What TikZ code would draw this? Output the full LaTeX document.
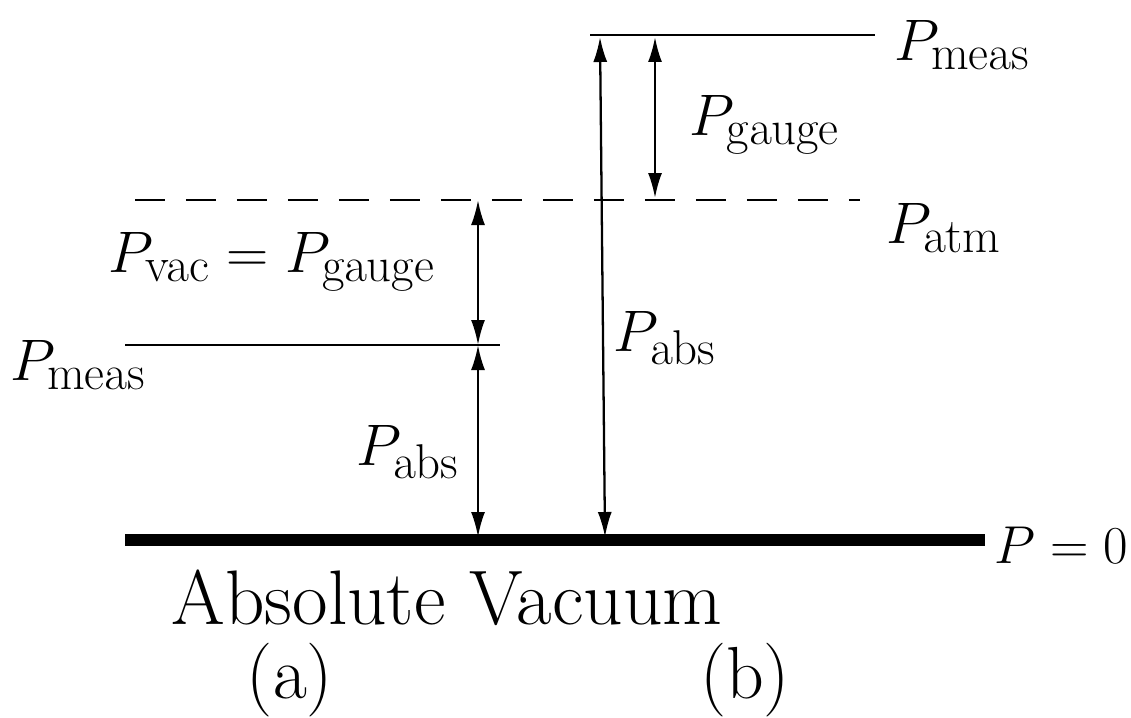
\documentclass[tikz,border=0pt]{standalone}
\usepackage{amsmath}
\usepackage{xcolor}
\usetikzlibrary{arrows.meta}

\newcommand{\plab}[1]{\scalebox{1.34}{\fontsize{24.88}{28}\selectfont$#1$}}

\tikzset{
  lvl/.style={line width=1.6pt},
  dim/.style={line width=1.3pt, {Latex[length=5mm,width=2.8mm]}-{Latex[length=5mm,width=2.8mm]}},
  lbl/.style={inner sep=0pt},
  big/.style={font=\fontsize{44}{48}\selectfont, inner sep=0pt}
}

\begin{document}
\begin{tikzpicture}[x=0.02cm, y=-0.02cm]
\useasboundingbox (0,0) rectangle (1131,717);
% levels
\coordinate (z0) at (125,540);
\coordinate (z1) at (985,540);
\coordinate (atm0) at (135,200);
\coordinate (atm1) at (860,200);
\coordinate (mt0) at (590,35);
\coordinate (mt1) at (875,35);
\coordinate (ma0) at (125,345);
\coordinate (ma1) at (500,345);
\draw[line width=7pt] (z0) -- (z1);
\draw[lvl, dash pattern=on 0.6cm off 0.42cm] (atm0) -- (atm1);
\draw[lvl] (mt0) -- (mt1);
\draw[lvl] (ma0) -- (ma1);
% arrow ends
\coordinate (a0) at (478,200);
\coordinate (a1) at (478,345);
\coordinate (a2) at (478,537);
\coordinate (b0) at (600,37);
\coordinate (b1) at (605,537);
\coordinate (g0) at (655,37);
\coordinate (g1) at (655,198);
\draw (a0) edge[dim] (a1);
\draw (a1) edge[dim] (a2);
\draw (b0) edge[dim] (b1);
\draw (g0) edge[dim] (g1);
% labels
\node[lbl] (pmt) at (962,45) {\plab{P_{\mathrm{meas}}}};
\node[lbl] (patm) at (944,228) {\plab{P_{\mathrm{atm}}}};
\node[lbl, anchor=west] (pz) at (994,545) {\scalebox{1.22}{\fontsize{24.88}{28}\selectfont$P=0$}};
\node[lbl] (pg) at (765,125) {\plab{P_{\mathrm{gauge}}}};
\node[lbl] (pv) at (272,262) {\plab{P_{\mathrm{vac}}=P_{\mathrm{gauge}}}};
\node[lbl] (pma) at (78,365) {\plab{P_{\mathrm{meas}}}};
\node[lbl] (paa) at (408,452) {\plab{P_{\mathrm{abs}}}};
\node[lbl] (pab) at (665,338) {\plab{P_{\mathrm{abs}}}};
\node[big] (vac) at (447,598) {Absolute Vacuum};
\node[big, font=\fontsize{42}{46}\selectfont] (la) at (290,680) {(a)};
\node[big, font=\fontsize{42}{46}\selectfont] (lb) at (745,680) {(b)};
\end{tikzpicture}
\end{document}
